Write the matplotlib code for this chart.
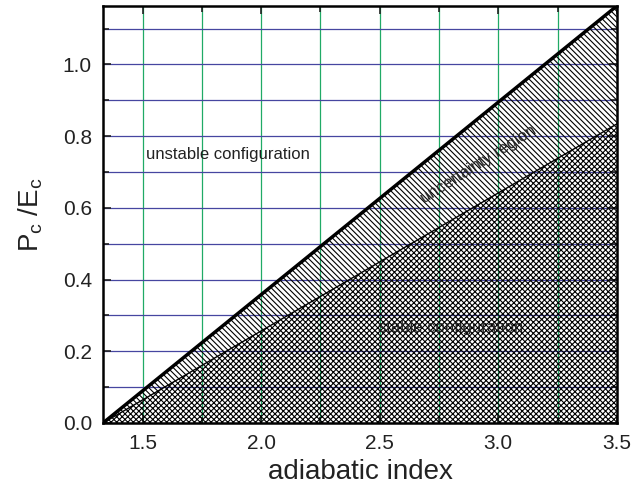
import matplotlib
matplotlib.use("Agg")
import matplotlib.pyplot as plt
import numpy as np
from matplotlib.ticker import MultipleLocator

plt.rcParams["font.family"] = ["Liberation Sans", "DejaVu Sans"]
plt.rcParams["mathtext.fontset"] = "custom"
plt.rcParams["mathtext.rm"] = "Liberation Sans"
plt.rcParams["mathtext.it"] = "Liberation Sans"
plt.rcParams["hatch.linewidth"] = 0.8

# boundaries in (adiabatic index, Pc/Ec)
gamma = [4 / 3, 3.5]
upper_bound = [0.0, 1.163]  # above: unstable
lower_bound = [0.0, 0.834]  # below: stable

fig = plt.figure(figsize=(6.34, 4.95), dpi=100)
ax = fig.add_axes([0.1625, 0.1455, 0.8105, 0.8425])

ax.set_xlim(gamma[0], gamma[1])
ax.set_ylim(0, upper_bound[1])

# grid
ax.xaxis.set_major_locator(MultipleLocator(0.5))
ax.xaxis.set_minor_locator(MultipleLocator(0.25))
ax.yaxis.set_major_locator(MultipleLocator(0.2))
ax.yaxis.set_minor_locator(MultipleLocator(0.1))
for xv in np.arange(1.5, 3.5, 0.25):
    ax.axvline(xv, color="#20aa66", lw=0.9, zorder=1)
for yv in np.arange(0.1, 1.15, 0.1):
    ax.axhline(yv, color="#4646a0", lw=0.9, zorder=1)

ax.fill_between(gamma, lower_bound, upper_bound, facecolor="none",
                edgecolor="black", hatch="\\\\\\\\\\\\", lw=0, zorder=2)
ax.fill_between(gamma, 0, lower_bound, facecolor="none",
                edgecolor="black", hatch="xxxxxx", lw=0, zorder=2)
ax.plot(gamma, upper_bound, color="black", lw=2.5, zorder=3)
ax.plot(gamma, lower_bound, color="black", lw=1.0, zorder=3)

ax.text(1.515, 0.75, "unstable configuration", fontsize=12, va="center", ha="left",
        color="#222222")
ax.text(2.917, 0.72, "uncertainty region", fontsize=12, va="center", ha="center",
        rotation=32, color="#222222")
ax.text(2.80, 0.266, "stable configuration", fontsize=12, va="center", ha="center",
        color="#222222")

ax.tick_params(which="both", direction="in", top=True, right=True, labelsize=15,
               width=1.2, colors="#222222")
ax.tick_params(which="major", length=6)
ax.tick_params(axis="x", which="major", pad=8)
ax.tick_params(axis="y", which="major", pad=8)
ax.tick_params(which="minor", length=4)
for sp in ax.spines.values():
    sp.set_linewidth(1.8)
    sp.set_zorder(4)

ax.set_xlabel("adiabatic index", fontsize=20, labelpad=4, color="#222222")
ax.set_ylabel(r"P$_\mathregular{c}$ /E$_\mathregular{c}$", fontsize=20, labelpad=13,
              color="#222222")

fig.savefig("out.png", dpi=100)
